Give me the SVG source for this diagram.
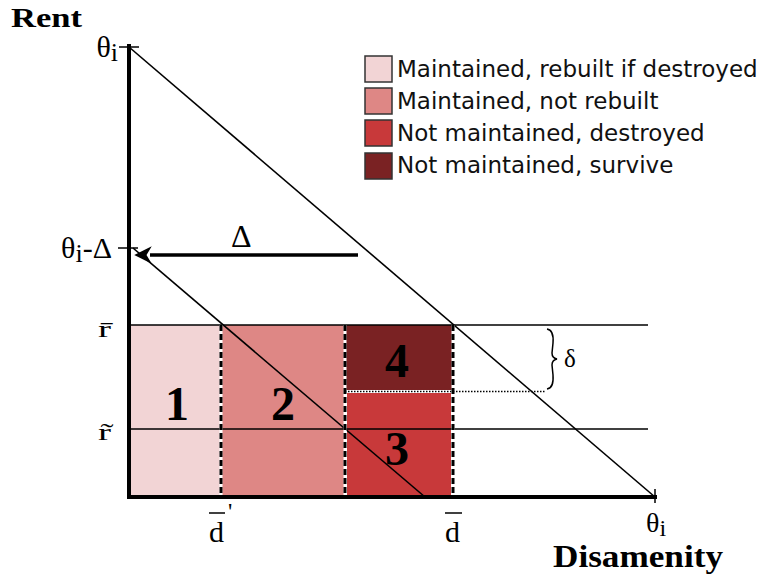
<svg xmlns="http://www.w3.org/2000/svg" width="763" height="579" viewBox="0 0 763 579">
<style>
.serif{font-family:"Liberation Serif","DejaVu Serif",serif;fill:#000}
.sans{font-family:"DejaVu Sans","Liberation Sans",sans-serif;font-size:23px;fill:#111}
.num{font-family:"Liberation Serif",serif;font-weight:bold;font-size:48px;text-anchor:middle}
.thin{stroke:#000;stroke-width:1.6;fill:none}
.dash{stroke:#000;stroke-width:3;stroke-dasharray:6 3}
.dashw{stroke:#fff;stroke-width:3}
.leg{stroke:#333;stroke-width:1.5}
</style>
<defs>
<marker id="ah" viewBox="0 0 10 10" refX="1" refY="5" markerWidth="8" markerHeight="5" orient="auto">
<path d="M10,5 L0,0 L3,5 L0,10 Z" fill="#000"/>
</marker>
</defs>
<rect width="763" height="579" fill="#fff"/>
<g id="regions">
<rect id="r1" x="129" y="325" width="92" height="172" fill="#f2d4d5"/>
<rect id="r2" x="221" y="325" width="124" height="172" fill="#de8785"/>
<rect id="r3" x="347" y="393" width="104" height="102" fill="#c8393a"/>
<rect id="r4" x="345" y="325" width="108" height="65" fill="#7a2223"/>
</g>
<g id="connectors">
<line class="thin" x1="129" y1="325" x2="648" y2="325"/>
<line class="thin" x1="129" y1="429" x2="648" y2="429"/>
<line x1="345" y1="391.5" x2="545" y2="391.5" stroke="#000" stroke-width="1.5" stroke-dasharray="1.5 1.5"/>
<line class="thin" x1="129" y1="47" x2="655" y2="497" stroke-width="2.5"/>
<line class="thin" x1="133" y1="248" x2="425" y2="497" stroke-width="2"/>
<line class="dashw" x1="221" y1="325" x2="221" y2="497"/>
<line class="dash" x1="221" y1="325" x2="221" y2="497"/>
<line class="dashw" x1="345" y1="325" x2="345" y2="497"/>
<line class="dash" x1="345" y1="325" x2="345" y2="497"/>
<line class="dashw" x1="453" y1="325" x2="453" y2="497"/>
<line class="dash" x1="453" y1="325" x2="453" y2="497"/>
<line x1="129" y1="44" x2="129" y2="499" stroke="#000" stroke-width="4"/>
<line x1="127" y1="497" x2="657" y2="497" stroke="#000" stroke-width="4"/>
<line x1="119" y1="47" x2="139" y2="47" stroke="#000" stroke-width="1.5"/>
<line x1="118" y1="248" x2="138" y2="248" stroke="#000" stroke-width="1.5"/>
<line x1="655" y1="489" x2="655" y2="503" stroke="#000" stroke-width="1.5"/>
<line x1="358" y1="255" x2="150" y2="255" stroke="#000" stroke-width="3.5" marker-end="url(#ah)"/>
<path d="M547,329 Q554,330 553,343 L552,353 Q552,358 557,359 Q552,360 552,365 L553,375 Q554,388 547,389" fill="none" stroke="#000" stroke-width="1.5"/>
</g>
<g id="labels">
<text class="serif" x="11" y="27" font-size="27" font-weight="bold" textLength="71" lengthAdjust="spacingAndGlyphs">Rent</text>
<text class="serif" x="553" y="567" font-size="31" font-weight="bold" textLength="170" lengthAdjust="spacingAndGlyphs">Disamenity</text>
<text class="serif" x="118" y="57" font-size="30" text-anchor="end">θ<tspan font-size="26" dy="4">i</tspan></text>
<text class="serif" x="112" y="258" font-size="30" text-anchor="end">θ<tspan font-size="26" dy="4">i</tspan><tspan dy="-4">-Δ</tspan></text>
<text class="serif" x="231" y="247" font-size="32">Δ</text>
<text class="serif" x="98" y="337" font-size="24" textLength="13" lengthAdjust="spacingAndGlyphs">r̄</text>
<text class="serif" x="98" y="440" font-size="24" textLength="13" lengthAdjust="spacingAndGlyphs">r̃</text>
<text class="serif" x="209" y="542" font-size="30">d</text>
<line x1="209" y1="513" x2="225" y2="513" stroke="#000" stroke-width="1.5"/>
<text class="serif" x="228" y="519" font-size="24">'</text>
<text class="serif" x="445" y="542" font-size="30">d</text>
<line x1="445" y1="513" x2="462" y2="513" stroke="#000" stroke-width="1.5"/>
<text class="serif" x="646" y="532" font-size="28">θ<tspan font-size="24" dy="4">i</tspan></text>
<text class="serif" x="564" y="367" font-size="25">δ</text>
<text class="num" x="177" y="420">1</text>
<text class="num" x="283" y="420">2</text>
<text class="num" x="397" y="465">3</text>
<text class="num" x="397" y="377">4</text>
</g>
<g id="legend">
<rect class="leg" x="365" y="56" width="27" height="26" fill="#f2d4d5"/>
<rect class="leg" x="365" y="88" width="27" height="26" fill="#de8785"/>
<rect class="leg" x="365" y="120" width="27" height="26" fill="#c8393a"/>
<rect class="leg" x="365" y="153" width="27" height="26" fill="#7a2223"/>
<text class="sans" x="397" y="77">Maintained, rebuilt if destroyed</text>
<text class="sans" x="397" y="109">Maintained, not rebuilt</text>
<text class="sans" x="397" y="141">Not maintained, destroyed</text>
<text class="sans" x="397" y="173">Not maintained, survive</text>
</g>
</svg>
